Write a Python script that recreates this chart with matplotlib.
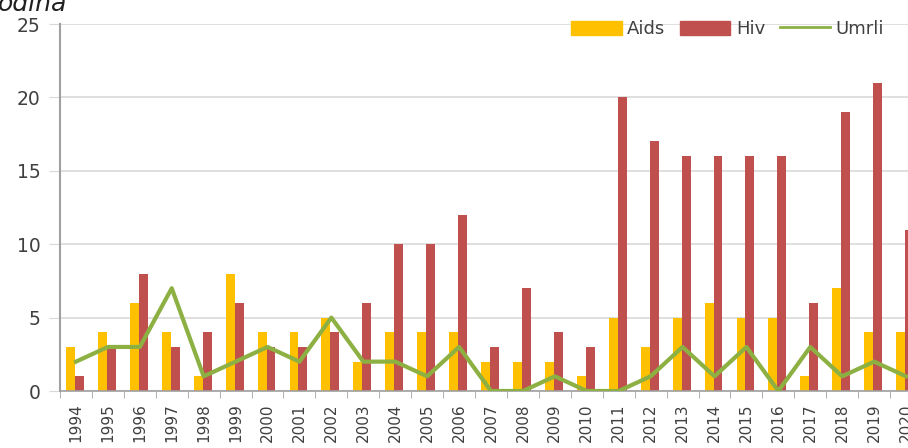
import matplotlib
matplotlib.use("Agg")
import matplotlib.pyplot as plt
import numpy as np
from matplotlib.lines import Line2D
from matplotlib.patches import Patch

years = [str(y) for y in range(1994, 2021)]
aids = [3, 4, 6, 4, 1, 8, 4, 4, 5, 2, 4, 4, 4, 2, 2, 2, 1, 5, 3, 5, 6, 5, 5, 1, 7, 4, 4]
hiv = [1, 3, 8, 3, 4, 6, 3, 3, 4, 6, 10, 10, 12, 3, 7, 4, 3, 20, 17, 16, 16, 16, 16, 6, 19, 21, 11]
umrli = [2, 3, 3, 7, 1, 2, 3, 2, 5, 2, 2, 1, 3, 0, 0, 1, 0, 0, 1, 3, 1, 3, 0, 3, 1, 2, 1]

C_AIDS = "#FFC000"
C_HIV = "#C0504D"
C_UMRLI = "#8DB043"
TXT = "#404040"

W, H = 908, 448
fig = plt.figure(figsize=(W / 100, H / 100), dpi=100)
ax = fig.add_axes([60 / W, 57 / H, 862 / W, 367 / H])

x = np.arange(len(years))
bw = 0.28
ax.bar(x - bw / 2 - 0.03, aids, width=bw, color=C_AIDS, zorder=2)
ax.bar(x + bw / 2 - 0.03, hiv, width=bw, color=C_HIV, zorder=2)
ax.plot(x, umrli, color=C_UMRLI, lw=3, zorder=3)

ax.set_xlim(-0.5, len(years) - 0.5)
ax.set_ylim(0, 25)
ax.set_yticks([0, 5, 10, 15, 20, 25])
ax.grid(axis="y", color="#d9d9d9", lw=1.2, zorder=0)
ax.set_xticks(x)
ax.set_xticklabels(years, rotation=90, fontsize=11, color=TXT)
ax.set_xticks(np.arange(-0.5, len(years)), minor=True)
ax.tick_params(axis="x", which="major", length=0, pad=9)
ax.tick_params(axis="x", which="minor", length=5, color="#a0a0a0", direction="out")
ax.tick_params(axis="y", length=8, color="#d9d9d9", labelsize=13.5, labelcolor=TXT, pad=6)
for s in ["top", "right"]:
    ax.spines[s].set_visible(False)
ax.spines["left"].set_color("#a0a0a0")
ax.spines["left"].set_linewidth(1.5)
ax.spines["bottom"].set_color("#a0a0a0")
ax.spines["bottom"].set_linewidth(1.2)

handles = [Patch(color=C_AIDS, label="Aids"), Patch(color=C_HIV, label="Hiv"),
           Line2D([0], [0], color=C_UMRLI, lw=2, label="Umrli")]
leg = ax.legend(handles=handles, loc="upper right", bbox_to_anchor=(884 / W, 1 - 20 / H),
                bbox_transform=fig.transFigure,
                ncol=3, frameon=False, fontsize=13, handlelength=2.8, handleheight=0.8,
                columnspacing=0.8, handletextpad=0.3, borderaxespad=0, borderpad=0)
for t in leg.get_texts():
    t.set_color(TXT)

fig.text(-0.002, 1 - 4 / H, "odina", fontsize=18, style="italic", color="#202020",
         ha="left", va="center")

fig.savefig("out.png", dpi=100)
